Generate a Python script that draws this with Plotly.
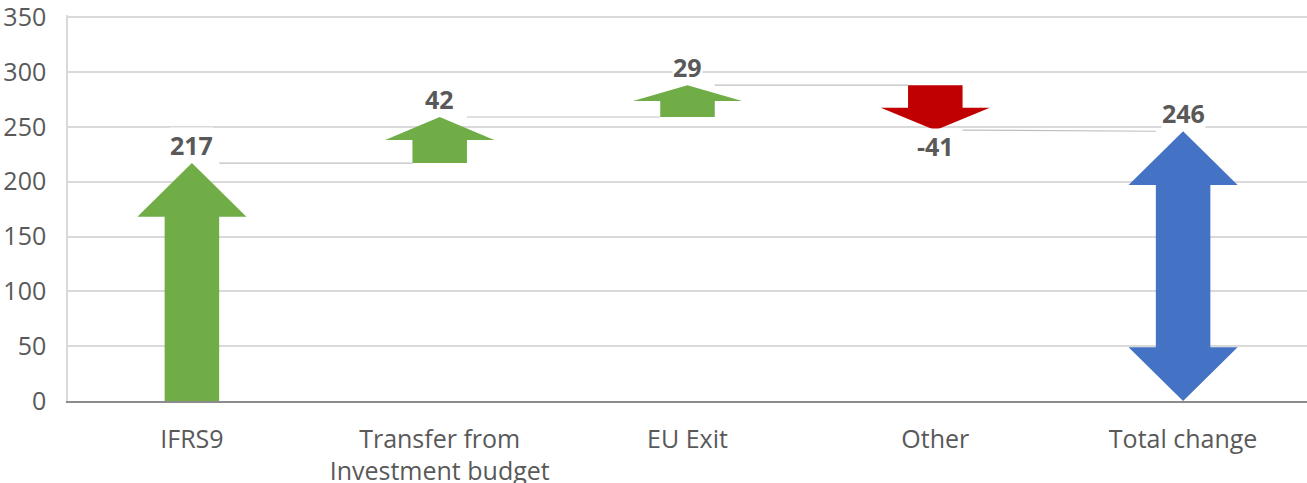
import plotly.graph_objects as go

# Budget movement bridge
categories = ["IFRS9", "Transfer from<br>Investment budget", "EU Exit", "Other", "Total change"]
changes = [217, 42, 29, -41]
total = 246
labels = ["217", "42", "29", "-41", "246"]
y_ticks = [0, 50, 100, 150, 200, 250, 300, 350]

UP = "#70AD47"
DOWN = "#C00000"
TOTAL = "#4472C4"
TEXT = "#595959"
FONT = "Open Sans"

SHAFT_HALF = 0.11   # half width of the arrow shaft (category units)
HEAD_HALF = 0.22    # half width of the arrow head
HEAD_MAX = 49       # longest head length (value units)


def arrow(xc, y0, y1):
    """Polygon of a single arrow from y0 pointing to y1."""
    d = y1 - y0
    s = 1 if d > 0 else -1
    h = min(HEAD_MAX, abs(d) / 2)
    yb = y1 - s * h
    xs = [xc - SHAFT_HALF, xc - SHAFT_HALF, xc - HEAD_HALF, xc, xc + HEAD_HALF,
          xc + SHAFT_HALF, xc + SHAFT_HALF, xc - SHAFT_HALF]
    ys = [y0, yb, yb, y1, yb, yb, y0, y0]
    return xs, ys


def double_arrow(xc, y0, y1):
    h = min(HEAD_MAX, abs(y1 - y0) / 3)
    xs = [xc, xc - HEAD_HALF, xc - SHAFT_HALF, xc - SHAFT_HALF, xc - HEAD_HALF, xc,
          xc + HEAD_HALF, xc + SHAFT_HALF, xc + SHAFT_HALF, xc + HEAD_HALF, xc]
    ys = [y0, y0 + h, y0 + h, y1 - h, y1 - h, y1,
          y1 - h, y1 - h, y0 + h, y0 + h, y0]
    return xs, ys


fig = go.Figure()

# running levels
levels = [0]
for c in changes:
    levels.append(levels[-1] + c)
tips = levels[1:] + [total]

# connector lines between consecutive arrows
for i in range(len(changes)):
    y_end = tips[i + 1] if i + 1 == len(changes) else tips[i]
    fig.add_trace(go.Scatter(
        x=[i + SHAFT_HALF, i + 1 - SHAFT_HALF], y=[tips[i], y_end],
        mode="lines", line=dict(color="#BFBFBF", width=1.2),
        hoverinfo="skip", showlegend=False))

for i, c in enumerate(changes):
    xs, ys = arrow(i, levels[i], levels[i + 1])
    fig.add_trace(go.Scatter(
        x=xs, y=ys, fill="toself", mode="lines",
        fillcolor=UP if c > 0 else DOWN, line=dict(width=0),
        hoverinfo="skip", showlegend=False))

xs, ys = double_arrow(len(changes), 0, total)
fig.add_trace(go.Scatter(
    x=xs, y=ys, fill="toself", mode="lines",
    fillcolor=TOTAL, line=dict(width=0),
    hoverinfo="skip", showlegend=False))

# value labels at the arrow tips
signs = changes + [total]
for i, (t, lab, s) in enumerate(zip(tips, labels, signs)):
    fig.add_annotation(
        x=i, y=t, text=f"<b>{lab}</b>", showarrow=False,
        yanchor="bottom" if s > 0 else "top",
        yshift=0 if s > 0 else 2,
        bgcolor="white", borderpad=0,
        font=dict(family=FONT, size=25, color=TEXT))

fig.update_layout(
    width=1307, height=483,
    margin=dict(l=68, r=0, t=15, b=82),
    paper_bgcolor="white", plot_bgcolor="white",
    font=dict(family=FONT, size=25, color=TEXT),
    xaxis=dict(
        range=[-0.5, 4.5], tickmode="array",
        tickvals=list(range(len(categories))), ticktext=categories,
        showgrid=False, zeroline=False, showline=True,
        linecolor="#8C8C8C", linewidth=1.5, ticks="",
        ticklabelstandoff=15, automargin=False,
        tickfont=dict(family=FONT, size=25, color=TEXT)),
    yaxis=dict(
        range=[0, 352], tickmode="array", tickvals=y_ticks,
        showgrid=True, gridcolor="#D9D9D9", gridwidth=1.5, zeroline=False,
        showline=True, linecolor="#D9D9D9", linewidth=1.5,
        ticks="", ticklabelstandoff=15, automargin=False,
        ticklabeloverflow="allow",
        tickfont=dict(family=FONT, size=25, color=TEXT)),
)

fig.write_html("out.html")
